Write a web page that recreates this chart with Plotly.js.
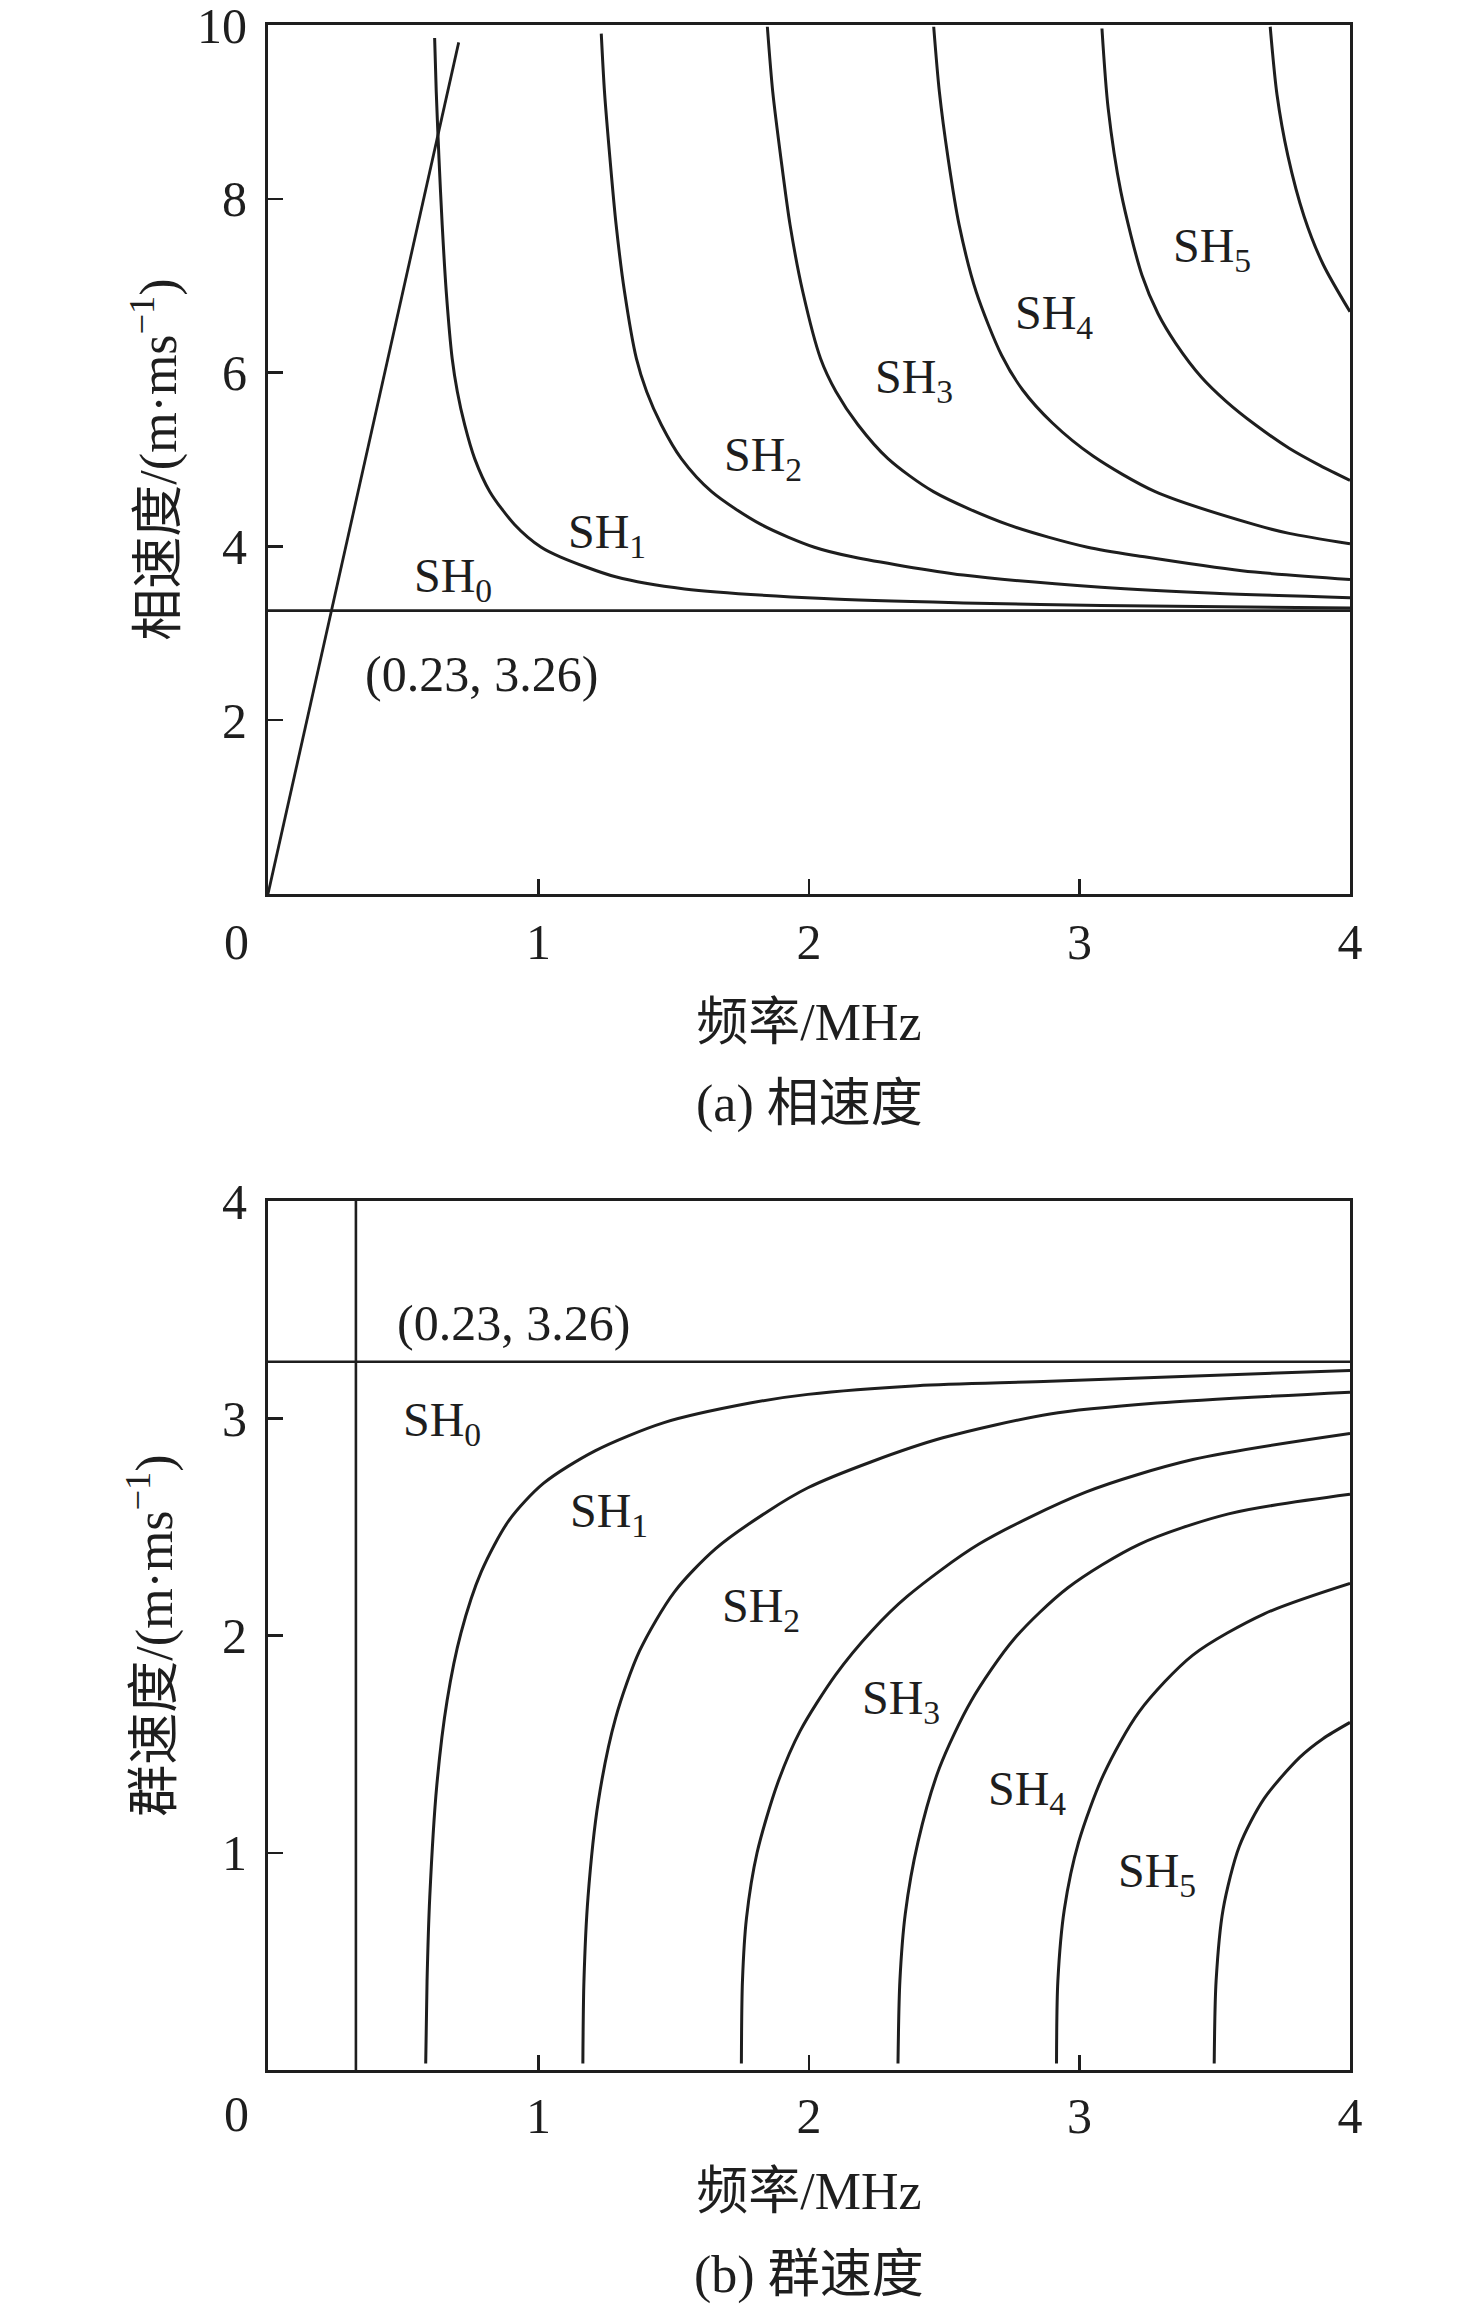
<!DOCTYPE html>
<html>
<head>
<meta charset="utf-8">
<script src="https://cdn.plot.ly/plotly-3.0.1.min.js"></script>
<style>
  html, body { margin: 0; padding: 0; background: #fff; }
  #chart { width: 1476px; height: 2307px; }
</style>
</head>
<body>
<div id="chart"></div>
<script>
// ---------- (a) phase velocity data (frequency MHz, velocity m/ms) ----------
const bulkLineFreq = [0, 0.705];
const bulkLineVel = [0, 9.8];
const sh0PhaseFreq = [0, 4];
const sh0PhaseVel = [3.26, 3.26];

const sh1PhaseFreq = [0.616, 0.622, 0.632, 0.644, 0.659, 0.681, 0.700, 0.727, 0.764, 0.820, 0.912, 1.010, 1.080, 1.285, 1.540, 2.055, 2.570, 3.080, 4.000];
const sh1PhaseVel  = [9.85, 9.23, 8.47, 7.70, 6.93, 6.16, 5.78, 5.40, 5.01, 4.63, 4.25, 3.99, 3.88, 3.65, 3.51, 3.40, 3.35, 3.32, 3.29];

const sh2PhaseFreq = [1.232, 1.244, 1.264, 1.287, 1.318, 1.362, 1.400, 1.454, 1.528, 1.640, 1.824, 2.020, 2.160, 2.570, 3.080, 3.500, 4.000];
const sh2PhaseVel  = [9.90, 9.23, 8.47, 7.70, 6.93, 6.16, 5.78, 5.40, 5.01, 4.63, 4.25, 3.99, 3.88, 3.67, 3.53, 3.46, 3.41];

const sh3PhaseFreq = [1.846, 1.866, 1.896, 1.930, 1.977, 2.043, 2.100, 2.181, 2.292, 2.460, 2.736, 3.030, 3.240, 3.600, 4.000];
const sh3PhaseVel  = [9.98, 9.23, 8.47, 7.70, 6.93, 6.16, 5.78, 5.40, 5.01, 4.63, 4.25, 3.99, 3.88, 3.72, 3.62];

const sh4PhaseFreq = [2.461, 2.482, 2.514, 2.555, 2.618, 2.712, 2.790, 2.900, 3.050, 3.280, 3.648, 3.775, 4.000];
const sh4PhaseVel  = [9.98, 9.23, 8.47, 7.70, 6.93, 6.20, 5.80, 5.42, 5.04, 4.63, 4.25, 4.15, 4.03];

const sh5PhaseFreq = [3.083, 3.106, 3.153, 3.231, 3.290, 3.355, 3.450, 3.542, 3.650, 3.775, 3.890, 4.000];
const sh5PhaseVel  = [9.96, 9.04, 8.08, 7.12, 6.68, 6.34, 5.95, 5.67, 5.40, 5.13, 4.93, 4.76];

const sh6PhaseFreq = [3.705, 3.730, 3.770, 3.830, 3.900, 4.000];
const sh6PhaseVel  = [9.98, 9.20, 8.50, 7.80, 7.25, 6.70];

// ---------- (b) group velocity data ----------
const sh0GroupFreq = [0, 4];
const sh0GroupVel = [3.26, 3.26];
const cutLineFreq = [0.325, 0.325];
const cutLineVel = [0, 4];

const sh1GroupFreq = [0.583, 0.588, 0.598, 0.624, 0.662, 0.713, 0.789, 0.891, 1.018, 1.209, 1.464, 1.782, 1.996, 2.400, 2.891, 4.000];
const sh1GroupVel  = [0.03, 0.41, 0.795, 1.31, 1.70, 2.01, 2.295, 2.53, 2.70, 2.85, 2.98, 3.07, 3.11, 3.15, 3.17, 3.22];

const sh2GroupFreq = [1.164, 1.168, 1.183, 1.221, 1.285, 1.374, 1.502, 1.655, 1.846, 1.996, 2.231, 2.495, 2.891, 3.287, 4.000];
const sh2GroupVel  = [0.03, 0.41, 0.795, 1.235, 1.62, 1.93, 2.20, 2.40, 2.57, 2.68, 2.80, 2.91, 3.02, 3.07, 3.12];

const sh3GroupFreq = [1.750, 1.754, 1.769, 1.808, 1.884, 1.967, 2.099, 2.231, 2.363, 2.627, 3.023, 3.419, 4.000];
const sh3GroupVel  = [0.03, 0.41, 0.70, 1.00, 1.32, 1.56, 1.82, 2.02, 2.18, 2.42, 2.66, 2.81, 2.93];

const sh4GroupFreq = [2.329, 2.336, 2.356, 2.403, 2.482, 2.600, 2.759, 2.957, 3.221, 3.551, 4.000];
const sh4GroupVel  = [0.03, 0.41, 0.72, 1.05, 1.39, 1.70, 1.985, 2.22, 2.42, 2.56, 2.65];

const sh5GroupFreq = [2.915, 2.920, 2.944, 2.997, 3.089, 3.221, 3.419, 3.683, 4.000];
const sh5GroupVel  = [0.03, 0.41, 0.74, 1.05, 1.36, 1.65, 1.91, 2.10, 2.24];

const sh6GroupFreq = [3.498, 3.505, 3.531, 3.591, 3.683, 3.815, 3.900, 4.000];
const sh6GroupVel  = [0.03, 0.41, 0.74, 1.03, 1.25, 1.44, 1.525, 1.60];

// ---------- labels ----------
const phaseLabels = ['SH<sub>0</sub>', 'SH<sub>1</sub>', 'SH<sub>2</sub>', 'SH<sub>3</sub>', 'SH<sub>4</sub>', 'SH<sub>5</sub>'];
const phaseLabelFreq = [0.684, 1.254, 1.829, 2.389, 2.904, 3.49];
const phaseLabelVel  = [3.62, 4.13, 5.02, 5.91, 6.65, 7.42];
const groupLabels = ['SH<sub>0</sub>', 'SH<sub>1</sub>', 'SH<sub>2</sub>', 'SH<sub>3</sub>', 'SH<sub>4</sub>', 'SH<sub>5</sub>'];
const groupLabelFreq = [0.643, 1.26, 1.824, 2.339, 2.805, 3.286];
const groupLabelVel  = [2.98, 2.56, 2.12, 1.70, 1.28, 0.90];
const pointLabel = '(0.23, 3.26)';
const phasePointLabelPos = [0.788, 2.53];
const groupPointLabelPos = [0.909, 3.44];

const xTickVals = [1, 2, 3, 4];
const phaseYTickVals = [2, 4, 6, 8, 10];
const groupYTickVals = [1, 2, 3, 4];

const xTitle = '频率/MHz';
const phaseYTitle = '相速度/(m·ms<sup>−1</sup>)';
const groupYTitle = '群速度/(m·ms<sup>−1</sup>)';
const captionA = '(a) 相速度';
const captionB = '(b) 群速度';

// ---------- figure ----------
const FONT = '"Liberation Serif", "Times New Roman", "Noto Sans CJK SC", serif';
const INK = '#1e1e1e';
const LW = 3;

function line(x, y, xa, ya, w, smooth) {
  return {
    x: x, y: y, xaxis: xa, yaxis: ya, type: 'scatter', mode: 'lines',
    line: { color: INK, width: w || LW, shape: smooth ? 'spline' : 'linear', smoothing: 0.8 },
    hoverinfo: 'skip', showlegend: false
  };
}

const traces = [
  line(bulkLineFreq, bulkLineVel, 'x', 'y', 2.8),
  line(sh0PhaseFreq, sh0PhaseVel, 'x', 'y', 2.8),
  line(sh1PhaseFreq, sh1PhaseVel, 'x', 'y', LW, true),
  line(sh2PhaseFreq, sh2PhaseVel, 'x', 'y', LW, true),
  line(sh3PhaseFreq, sh3PhaseVel, 'x', 'y', LW, true),
  line(sh4PhaseFreq, sh4PhaseVel, 'x', 'y', LW, true),
  line(sh5PhaseFreq, sh5PhaseVel, 'x', 'y', LW, true),
  line(sh6PhaseFreq, sh6PhaseVel, 'x', 'y', LW, true),
  line(sh0GroupFreq, sh0GroupVel, 'x2', 'y2', 2.6),
  line(cutLineFreq, cutLineVel, 'x2', 'y2', 2.6),
  line(sh1GroupFreq, sh1GroupVel, 'x2', 'y2', LW, true),
  line(sh2GroupFreq, sh2GroupVel, 'x2', 'y2', LW, true),
  line(sh3GroupFreq, sh3GroupVel, 'x2', 'y2', LW, true),
  line(sh4GroupFreq, sh4GroupVel, 'x2', 'y2', LW, true),
  line(sh5GroupFreq, sh5GroupVel, 'x2', 'y2', LW, true),
  line(sh6GroupFreq, sh6GroupVel, 'x2', 'y2', LW, true)
];

function axisBase() {
  return {
    showline: true, mirror: true, linecolor: INK, linewidth: 3,
    ticks: 'inside', ticklen: 15, tickwidth: 2.5, tickcolor: INK,
    showgrid: false, zeroline: false, ticklabeloverflow: 'allow',
    tickfont: { family: FONT, size: 50, color: INK },
    fixedrange: true
  };
}

const annotations = [];
function addLabel(text, x, y, xref, yref, size) {
  annotations.push({
    text: text, x: x, y: y, xref: xref, yref: yref,
    showarrow: false, xanchor: 'center', yanchor: 'middle',
    font: { family: FONT, size: size || 48, color: INK }
  });
}
for (let i = 0; i < phaseLabels.length; i++) addLabel(phaseLabels[i], phaseLabelFreq[i], phaseLabelVel[i], 'x', 'y');
for (let i = 0; i < groupLabels.length; i++) addLabel(groupLabels[i], groupLabelFreq[i], groupLabelVel[i], 'x2', 'y2');
addLabel(pointLabel, phasePointLabelPos[0], phasePointLabelPos[1], 'x', 'y', 50);
addLabel(pointLabel, groupPointLabelPos[0], groupPointLabelPos[1], 'x2', 'y2', 50);

// shared origin "0" labels and captions in paper coordinates
const W = 1476, H = 2307, ML = 268, MR = 126, MT = 25, MB = 237;
function px2paperX(px) { return (px - ML) / (W - ML - MR); }
function px2paperY(py) { return (H - MB - py) / (H - MT - MB); }
addLabel('0', px2paperX(236), px2paperY(942), 'paper', 'paper', 50);
addLabel('0', px2paperX(236), px2paperY(2114), 'paper', 'paper', 50);
addLabel(captionA, 0.5, px2paperY(1104), 'paper', 'paper', 52);
addLabel(captionB, 0.5, px2paperY(2275), 'paper', 'paper', 52);

const layout = {
  width: W, height: H,
  margin: { l: ML, r: MR, t: MT, b: MB },
  paper_bgcolor: '#ffffff', plot_bgcolor: '#ffffff',
  font: { family: FONT, color: INK },
  showlegend: false,
  xaxis: Object.assign(axisBase(), {
    domain: [0, 1], range: [0, 4], anchor: 'y', tickvals: xTickVals,
    ticklabelstandoff: 2,
    title: { text: xTitle, font: { family: FONT, size: 52, color: INK }, standoff: 35 }
  }),
  yaxis: Object.assign(axisBase(), {
    domain: [px2paperY(894), 1], range: [0, 10.0001], anchor: 'x', tickvals: phaseYTickVals,
    ticklabelstandoff: 8,
    title: { text: phaseYTitle, font: { family: FONT, size: 52, color: INK }, standoff: 4 }
  }),
  xaxis2: Object.assign(axisBase(), {
    domain: [0, 1], range: [0, 4], anchor: 'y2', tickvals: xTickVals,
    ticklabelstandoff: 0,
    title: { text: xTitle, font: { family: FONT, size: 52, color: INK }, standoff: 30 }
  }),
  yaxis2: Object.assign(axisBase(), {
    domain: [0, px2paperY(1201)], range: [0, 4.0001], anchor: 'x2', tickvals: groupYTickVals,
    ticklabelstandoff: 8,
    title: { text: groupYTitle, font: { family: FONT, size: 52, color: INK }, standoff: 33 }
  }),
  annotations: annotations
};

Plotly.newPlot('chart', traces, layout, { displayModeBar: false, staticPlot: true });
</script>
</body>
</html>
